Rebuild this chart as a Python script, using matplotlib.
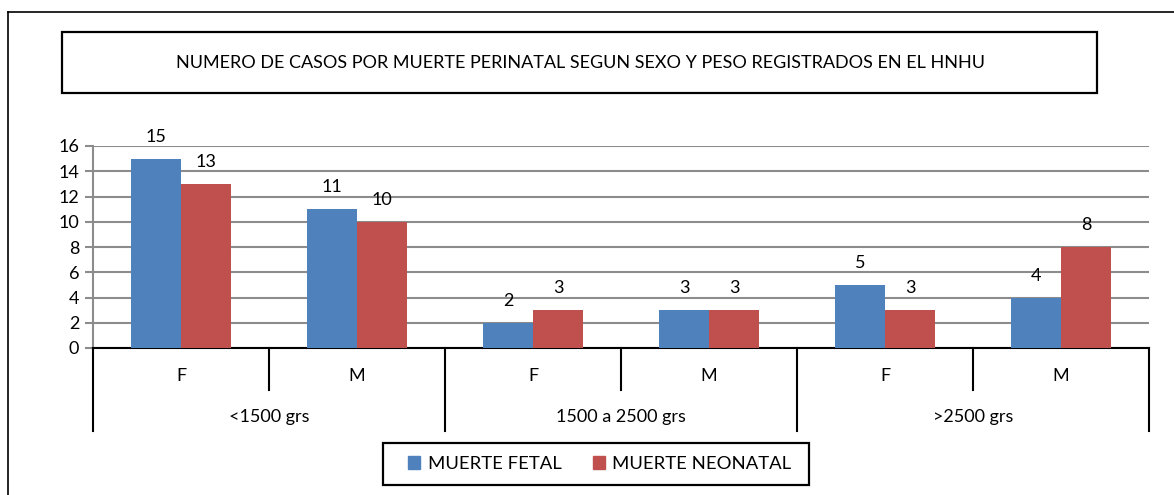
import matplotlib
matplotlib.use("Agg")
import matplotlib.pyplot as plt
from matplotlib.patches import Rectangle, Patch
from matplotlib.lines import Line2D

plt.rcParams['font.family'] = ['Lato', 'DejaVu Sans']

title = "NUMERO DE CASOS POR MUERTE PERINATAL SEGUN SEXO Y PESO REGISTRADOS EN EL HNHU"
groups = ["<1500 grs", "1500 a 2500 grs", ">2500 grs"]
sexes = ["F", "M", "F", "M", "F", "M"]
fetal = [15, 11, 2, 3, 5, 4]
neonatal = [13, 10, 3, 3, 3, 8]
series_names = ["MUERTE FETAL", "MUERTE NEONATAL"]
colors = ["#4F81BD", "#C0504D"]
yticks = [0, 2, 4, 6, 8, 10, 12, 14, 16]

W, H = 1174, 495
fig = plt.figure(figsize=(W/100, H/100), dpi=100)

def fx(px):
    return px / W

def fy(py):
    return 1 - py / H

# outer frame (left and top lines)
fig.add_artist(Line2D([fx(8), fx(8)], [fy(12), 0], color='black', lw=1.2, transform=fig.transFigure))
fig.add_artist(Line2D([fx(8), 1], [fy(12), fy(12)], color='black', lw=1.2, transform=fig.transFigure))

# title box
fig.add_artist(Rectangle((fx(62), fy(93)), fx(1097) - fx(62), fy(32) - fy(93),
                         transform=fig.transFigure, fill=False, ec='black', lw=1.6))
fig.text(fx(580), fy(63), title, ha='center', va='center', fontsize=13)

ax = fig.add_axes([fx(93), fy(348), fx(1149) - fx(93), fy(146) - fy(348)])
x = list(range(len(sexes)))
bw = 50 / 176
ax.bar([i - bw/2 for i in x], fetal, width=bw, color=colors[0], zorder=3)
ax.bar([i + bw/2 for i in x], neonatal, width=bw, color=colors[1], zorder=3)
for i in x:
    ax.annotate(str(fetal[i]), (i - bw/2, fetal[i]), xytext=(0, 10), textcoords='offset points',
                ha='center', va='bottom', fontsize=13)
    ax.annotate(str(neonatal[i]), (i + bw/2, neonatal[i]), xytext=(0, 10), textcoords='offset points',
                ha='center', va='bottom', fontsize=13)

ax.set_xlim(-0.5, len(sexes) - 0.5)
ax.set_ylim(0, 16)
ax.set_yticks(yticks)
ax.set_yticklabels([str(v) for v in yticks], fontsize=13)
ax.yaxis.grid(True, color='#8C8C8C', lw=1.5, zorder=0)
ax.set_axisbelow(True)
for s in ['top', 'right']:
    ax.spines[s].set_visible(False)
ax.spines['left'].set_color('#8C8C8C')
ax.spines['left'].set_linewidth(1.5)
ax.spines['bottom'].set_color('black')
ax.spines['bottom'].set_linewidth(1.5)
ax.tick_params(axis='y', length=6, width=1.5, color='#8C8C8C', pad=4)
ax.set_xticks([])

# hierarchical category axis
ph = 202.0
def ay(py):
    return -(py - 348) / ph

tr = ax.get_xaxis_transform()
for k in range(len(sexes) + 1):
    xx = k - 0.5
    end = 431 if k % 2 == 0 else 390
    ax.add_line(Line2D([xx, xx], [0, ay(end)], color='black', lw=1.5, transform=tr, clip_on=False))
for i, s in enumerate(sexes):
    ax.text(i, ay(376), s, transform=tr, ha='center', va='center', fontsize=13)
for g, name in enumerate(groups):
    ax.text(2*g + 0.5, ay(417), name, transform=tr, ha='center', va='center', fontsize=13)

# legend
fig.add_artist(Rectangle((fx(383), fy(485)), fx(809) - fx(383), fy(443) - fy(485),
                         transform=fig.transFigure, fill=False, ec='black', lw=1.6))
handles = [Patch(color=c, label=n) for c, n in zip(colors, series_names)]
leg = fig.legend(handles=handles, loc='center', bbox_to_anchor=(fx(600), fy(464)), ncol=2,
                 fontsize=13.3, frameon=False,
                 handlelength=0.65, handleheight=0.65, handletextpad=0.4, columnspacing=1.7,
                 borderpad=0, borderaxespad=0)

fig.savefig("out.png", dpi=100)
